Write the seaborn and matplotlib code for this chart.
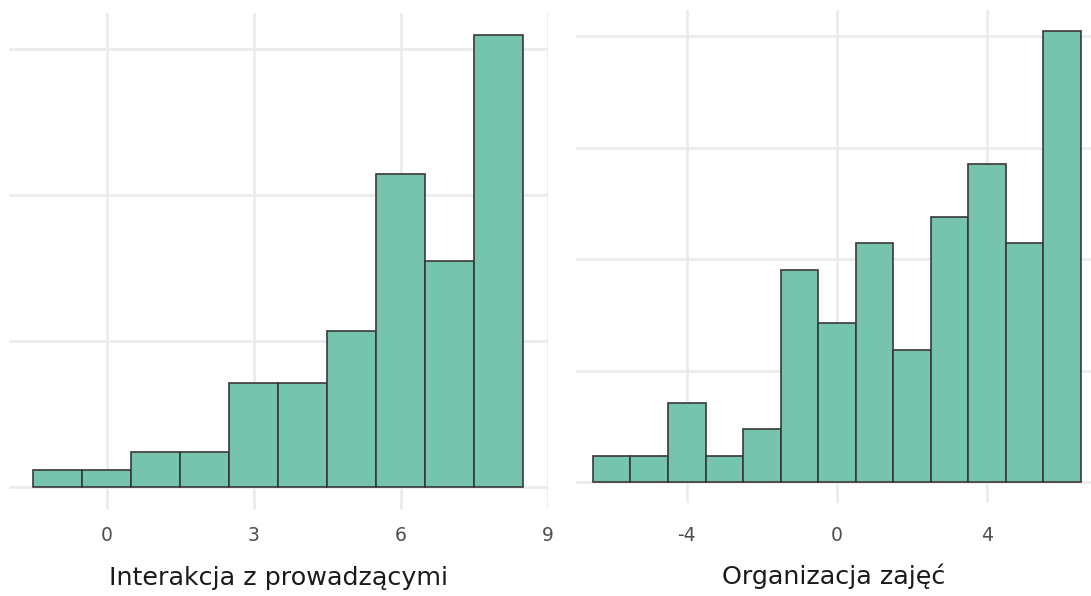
import matplotlib
matplotlib.use("Agg")
import matplotlib.pyplot as plt
import seaborn as sns
import pandas as pd

# Left histogram: bin centres and counts (N = 84)
inter_values = [-1, 0, 1, 2, 3, 4, 5, 6, 7, 8]
inter_counts = [1, 1, 2, 2, 6, 6, 9, 18, 13, 26]
inter_ticks = [0, 3, 6, 9]

# Right histogram: bin centres and counts (N = 84)
org_values = [-6, -5, -4, -3, -2, -1, 0, 1, 2, 3, 4, 5, 6]
org_counts = [1, 1, 3, 1, 2, 8, 6, 9, 5, 10, 12, 9, 17]
org_ticks = [-4, 0, 4]

titles = ["Interakcja z prowadzącymi", "Organizacja zajęć"]

FILL = "#76C4AE"
EDGE = "#383838"
GRID = "#EBEBEB"

sns.set_theme(style="white")
plt.rcParams["font.family"] = ["DejaVu Sans"]

fig = plt.figure(figsize=(10.91, 5.96), dpi=100)
W, H = 1091, 596

def px_axes(x0, x1, ytop, ybot):
    return fig.add_axes([x0 / W, (H - ybot) / H, (x1 - x0) / W, (ybot - ytop) / H])

ax1 = px_axes(9, 548, 13, 509)
ax2 = px_axes(576, 1091, 9.5, 503)

df1 = pd.DataFrame({"x": inter_values, "w": inter_counts})
df2 = pd.DataFrame({"x": org_values, "w": org_counts})

for ax, df, ticks, title, ylim, xlim, ypad, lpad, grid_y in [
    (ax1, df1, inter_ticks, titles[0], (-0.0151, 0.3247), (-1.99, 9.01), 17, 15, [0, 0.1, 0.2, 0.3]),
    (ax2, df2, org_ticks, titles[1], (-0.0092, 0.2119), (-6.95, 6.77), 23, 13, [0, 0.05, 0.1, 0.15, 0.2]),
]:
    ax.set_axisbelow(True)
    for g in grid_y:
        ax.axhline(g, color=GRID, lw=1.9, zorder=0)
    for t in ticks:
        ax.axvline(t, color=GRID, lw=1.9, zorder=0)
    sns.histplot(data=df, x="x", weights="w", discrete=True, stat="density",
                 color=FILL, edgecolor=EDGE, linewidth=1.2, alpha=1.0, ax=ax, zorder=2)
    ax.set_xlim(*xlim)
    ax.set_ylim(*ylim)
    ax.set_xticks(ticks)
    ax.set_xticklabels([str(t) for t in ticks])
    ax.set_yticks([])
    ax.set_ylabel("")
    ax.tick_params(axis="x", length=0, pad=ypad * 0.72, labelsize=13.5, labelcolor="#4D4D4D")
    ax.set_xlabel(title, fontsize=18.3, color="#1A1A1A", labelpad=lpad)
    for s in ax.spines.values():
        s.set_visible(False)
    ax.grid(False)

fig.savefig("out.png", dpi=100)
